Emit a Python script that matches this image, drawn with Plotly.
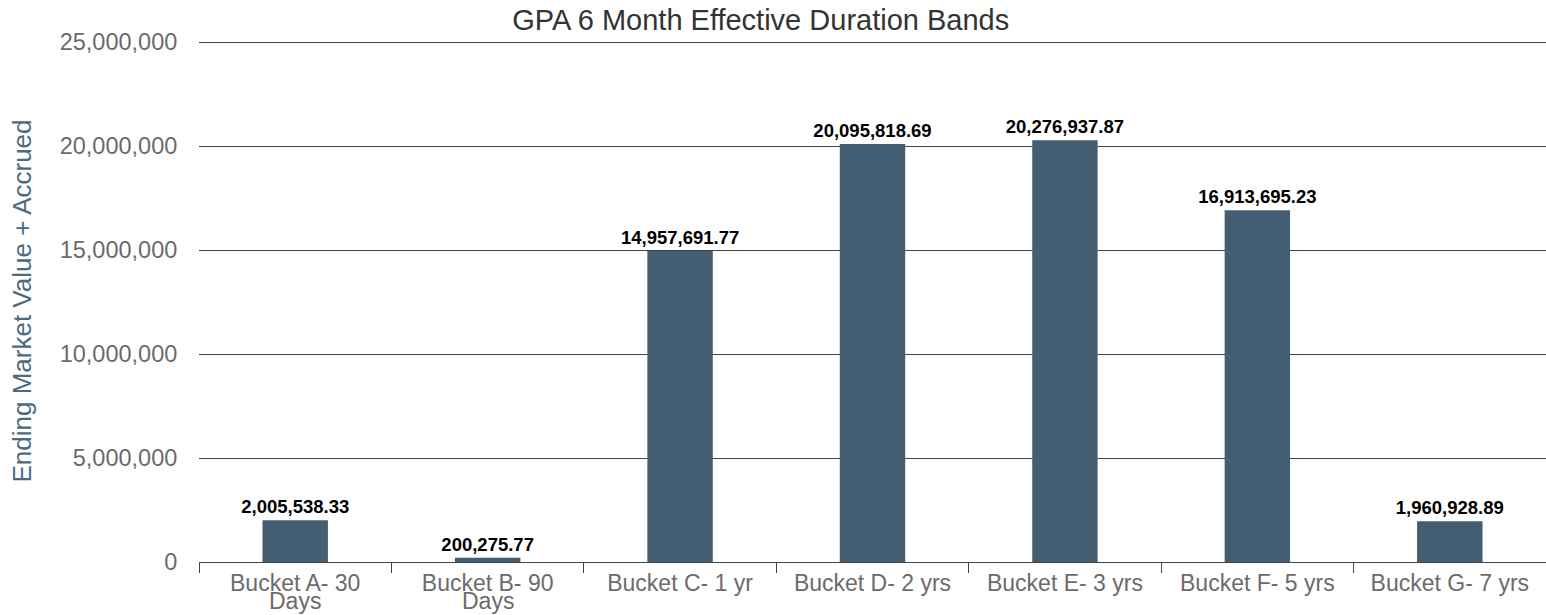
import plotly.graph_objects as go

categories = ["Bucket A- 30 Days", "Bucket B- 90 Days", "Bucket C- 1 yr",
              "Bucket D- 2 yrs", "Bucket E- 3 yrs", "Bucket F- 5 yrs", "Bucket G- 7 yrs"]
label_line1 = ["Bucket A- 30", "Bucket B- 90", "Bucket C- 1 yr",
               "Bucket D- 2 yrs", "Bucket E- 3 yrs", "Bucket F- 5 yrs", "Bucket G- 7 yrs"]
label_line2 = ["Days", "Days", "", "", "", "", ""]
values = [2005538.33, 200275.77, 14957691.77, 20095818.69, 20276937.87, 16913695.23, 1960928.89]
y_ticks = [0, 5000000, 10000000, 15000000, 20000000, 25000000]
y_tick_labels = ["0", "5,000,000", "10,000,000", "15,000,000", "20,000,000", "25,000,000"]

FONT = "Liberation Sans, Arial, sans-serif"
TICK_COLOR = "#6b6b6b"

fig = go.Figure(go.Bar(
    x=categories, y=values,
    marker=dict(color="#435e73", line=dict(width=0)),
    texttemplate="%{y:,.2f}", textposition="outside", constraintext="none",
    textfont=dict(family=FONT, size=18.5, color="#000000", weight="bold"),
    cliponaxis=False,
))

for cat, l2 in zip(categories, label_line2):
    if l2:
        fig.add_annotation(x=cat, y=0, xref="x", yref="paper", yanchor="top",
                           yshift=-25, text=l2, showarrow=False, borderpad=0,
                           font=dict(family=FONT, size=23, color=TICK_COLOR))

fig.update_layout(
    width=1546, height=615,
    margin=dict(l=199, r=0, t=40, b=53),
    paper_bgcolor="white", plot_bgcolor="white",
    bargap=0.66,
    showlegend=False,
    title=dict(text="GPA 6 Month Effective Duration Bands", x=0.417, xref="paper",
               xanchor="center", y=0.968, yanchor="middle", yref="container",
               font=dict(family=FONT, size=29, color="#333333")),
    font=dict(family=FONT),
)
fig.update_yaxes(
    range=[0, 25100000], tickvals=y_ticks, ticktext=y_tick_labels,
    showgrid=True, gridcolor="#444444", gridwidth=1,
    zeroline=False, showline=False, automargin=False,
    ticks="outside", ticklen=16, tickcolor="rgba(0,0,0,0)",
    tickfont=dict(family=FONT, size=23.5, color=TICK_COLOR),
    title=dict(text="Ending Market Value + Accrued", standoff=20,
               font=dict(family=FONT, size=26, color="#4e6a80")),
)
fig.update_xaxes(
    tickvals=categories, ticktext=label_line1,
    showline=True, linecolor="#444444", linewidth=1, automargin=False,
    ticks="outside", tickson="boundaries", ticklen=10, tickcolor="#444444",
    tickfont=dict(family=FONT, size=23, color=TICK_COLOR),
    showgrid=False,
)
fig.write_html("out.html", config={"displayModeBar": False},
               post_script="document.body.style.margin='0';document.body.style.overflow='hidden';")
